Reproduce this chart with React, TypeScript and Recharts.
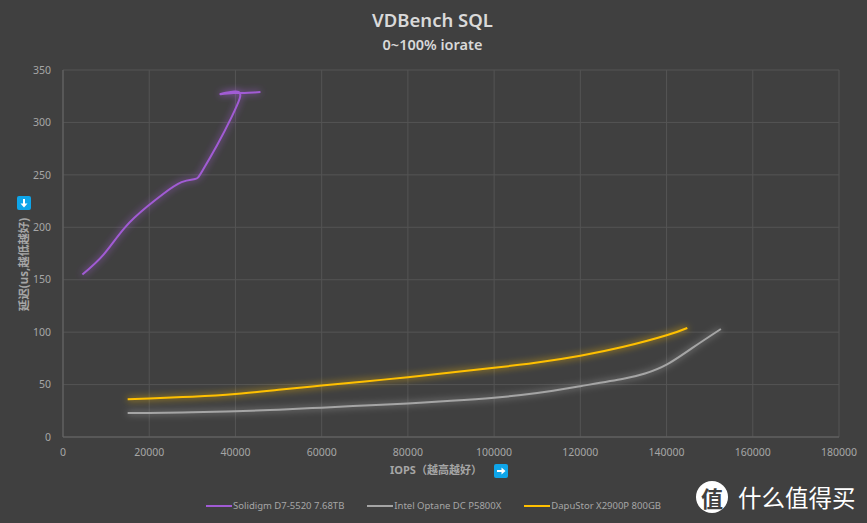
import { LineChart, Line, XAxis, YAxis, CartesianGrid, Legend } from 'recharts'

type Point = { x: number; y: number }

const xTicks = [0, 20000, 40000, 60000, 80000, 100000, 120000, 140000, 160000, 180000]
const yTicks = [0, 50, 100, 150, 200, 250, 300, 350]

const solidigm: Point[] = [
  { x: 4500, y: 155 },
  { x: 9400, y: 174 },
  { x: 14400, y: 200 },
  { x: 19600, y: 220 },
  { x: 23300, y: 232 },
  { x: 27500, y: 243 },
  { x: 30600, y: 246 },
  { x: 32200, y: 253 },
  { x: 35700, y: 278 },
  { x: 39100, y: 305 },
  { x: 41000, y: 323 },
  { x: 41000, y: 328 },
  { x: 39800, y: 329.5 },
  { x: 36500, y: 327 },
  { x: 39500, y: 328 },
  { x: 41500, y: 328 },
  { x: 45800, y: 329 },
]

const optane: Point[] = [
  { x: 15000, y: 23 },
  { x: 20000, y: 23 },
  { x: 30000, y: 23.5 },
  { x: 40000, y: 24.5 },
  { x: 50000, y: 26 },
  { x: 60000, y: 28 },
  { x: 70000, y: 30 },
  { x: 80000, y: 32 },
  { x: 90000, y: 34.5 },
  { x: 100000, y: 37.5 },
  { x: 110000, y: 42 },
  { x: 120000, y: 48.5 },
  { x: 130000, y: 55.5 },
  { x: 135000, y: 60.5 },
  { x: 140000, y: 69 },
  { x: 146000, y: 85 },
  { x: 152600, y: 103 },
]

const dapustor: Point[] = [
  { x: 15000, y: 36 },
  { x: 20000, y: 36.8 },
  { x: 30000, y: 38.5 },
  { x: 40000, y: 41 },
  { x: 50000, y: 45 },
  { x: 60000, y: 49 },
  { x: 70000, y: 53 },
  { x: 80000, y: 57 },
  { x: 90000, y: 61.5 },
  { x: 100000, y: 66 },
  { x: 110000, y: 71 },
  { x: 120000, y: 77.5 },
  { x: 130000, y: 86 },
  { x: 140000, y: 97 },
  { x: 144800, y: 104 },
]

const FONT = '"Noto Sans", "Noto Sans CJK SC", sans-serif'
const BG = '#404040'
const tickStyle = { fontSize: 10.5, fill: '#a6a6a6', fontFamily: FONT }

function LegendRow({ payload }: any) {
  return (
    <div style={{ display: 'flex', justifyContent: 'center', gap: 23, fontFamily: FONT, fontSize: 9.5, color: '#a6a6a6' }}>
      {(payload ?? []).map((item: any) => (
        <div key={item.value} style={{ display: 'flex', alignItems: 'center', gap: 1 }}>
          <span style={{ width: 26, height: 2, background: item.color, display: 'inline-block' }} />
          <span>{item.value}</span>
        </div>
      ))}
    </div>
  )
}

function ArrowBadge({ left, top, rotate }: { left: number; top: number; rotate: number }) {
  return (
    <svg width={14} height={14} style={{ position: 'absolute', left, top }}>
      <rect width={14} height={14} rx={2} fill="#0ea5e9" />
      <g transform={`rotate(${rotate} 7 7)`}>
        <path d="M3 6 H7.5 V3.5 L11.5 7 L7.5 10.5 V8 H3 Z" fill="#fff" />
      </g>
    </svg>
  )
}

export default function App() {
  return (
    <div style={{ position: 'absolute', left: 0, top: 0, width: 867, height: 523, background: BG, overflow: 'hidden' }}>
      <div style={{ position: 'absolute', left: 0, width: 865, top: 7, textAlign: 'center', fontFamily: FONT, fontWeight: 600, fontSize: 18.5, lineHeight: '26px', color: '#d9d9d9' }}>
        VDBench SQL
      </div>
      <div style={{ position: 'absolute', left: 0, width: 865, top: 35, textAlign: 'center', fontFamily: FONT, fontWeight: 600, fontSize: 14.5, lineHeight: '18px', color: '#d9d9d9' }}>
        0~100% iorate
      </div>

      <LineChart width={867} height={523} margin={{ top: 70, right: 28, left: 28, bottom: 26 }}>
        <defs>
          <filter id="glow" x="0" y="0" width="867" height="523" filterUnits="userSpaceOnUse">
            <feGaussianBlur stdDeviation="3.5" />
            <feMerge>
              <feMergeNode />
              <feMergeNode in="SourceGraphic" />
            </feMerge>
          </filter>
        </defs>
        <CartesianGrid stroke="#545454" strokeWidth={1} />
        <XAxis
          type="number"
          dataKey="x"
          domain={[0, 180000]}
          ticks={xTicks}
          interval={0}
          height={30}
          tick={tickStyle}
          tickLine={false}
          tickMargin={6}
          stroke="#666666"
          label={{ value: 'IOPS（越高越好）', position: 'insideBottom', dx: -15, dy: 12, style: { fontSize: 11, fontWeight: 700, fill: '#a6a6a6', fontFamily: FONT } }}
        />
        <YAxis
          type="number"
          domain={[0, 350]}
          ticks={yTicks}
          interval={0}
          width={35}
          tick={tickStyle}
          tickLine={false}
          tickMargin={6}
          stroke="#666666"
          label={{ value: '延迟(us,越低越好)', angle: -90, position: 'insideLeft', dx: -9, dy: 11, style: { fontSize: 11.5, fontWeight: 700, fill: '#a6a6a6', fontFamily: FONT, textAnchor: 'middle' } }}
        />
        <Legend verticalAlign="bottom" height={30} itemSorter={null} wrapperStyle={{ top: 499 }} content={<LegendRow />} />
        <Line name="Solidigm D7-5520 7.68TB" data={solidigm} dataKey="y" type="natural" stroke="#a15bd4" strokeWidth={2} dot={false} filter="url(#glow)" isAnimationActive={false} />
        <Line name="Intel Optane DC P5800X" data={optane} dataKey="y" type="natural" stroke="#a5a5a5" strokeWidth={2} dot={false} filter="url(#glow)" isAnimationActive={false} />
        <Line name="DapuStor X2900P 800GB" data={dapustor} dataKey="y" type="natural" stroke="#ffc000" strokeWidth={2} dot={false} filter="url(#glow)" isAnimationActive={false} />
      </LineChart>

      <ArrowBadge left={494} top={464} rotate={0} />
      <ArrowBadge left={17} top={196} rotate={90} />

      <div style={{ position: 'absolute', left: 696, top: 481, width: 32, height: 32, borderRadius: 16, background: '#fff', color: '#404040', fontFamily: '"Noto Sans CJK SC"', fontWeight: 700, fontSize: 22, lineHeight: '32px', textAlign: 'center' }}>
        值
      </div>
      <div style={{ position: 'absolute', left: 738, top: 480, fontFamily: '"Noto Sans CJK SC"', fontSize: 23.5, lineHeight: '34px', color: '#fff', whiteSpace: 'nowrap' }}>
        什么值得买
      </div>
    </div>
  )
}
